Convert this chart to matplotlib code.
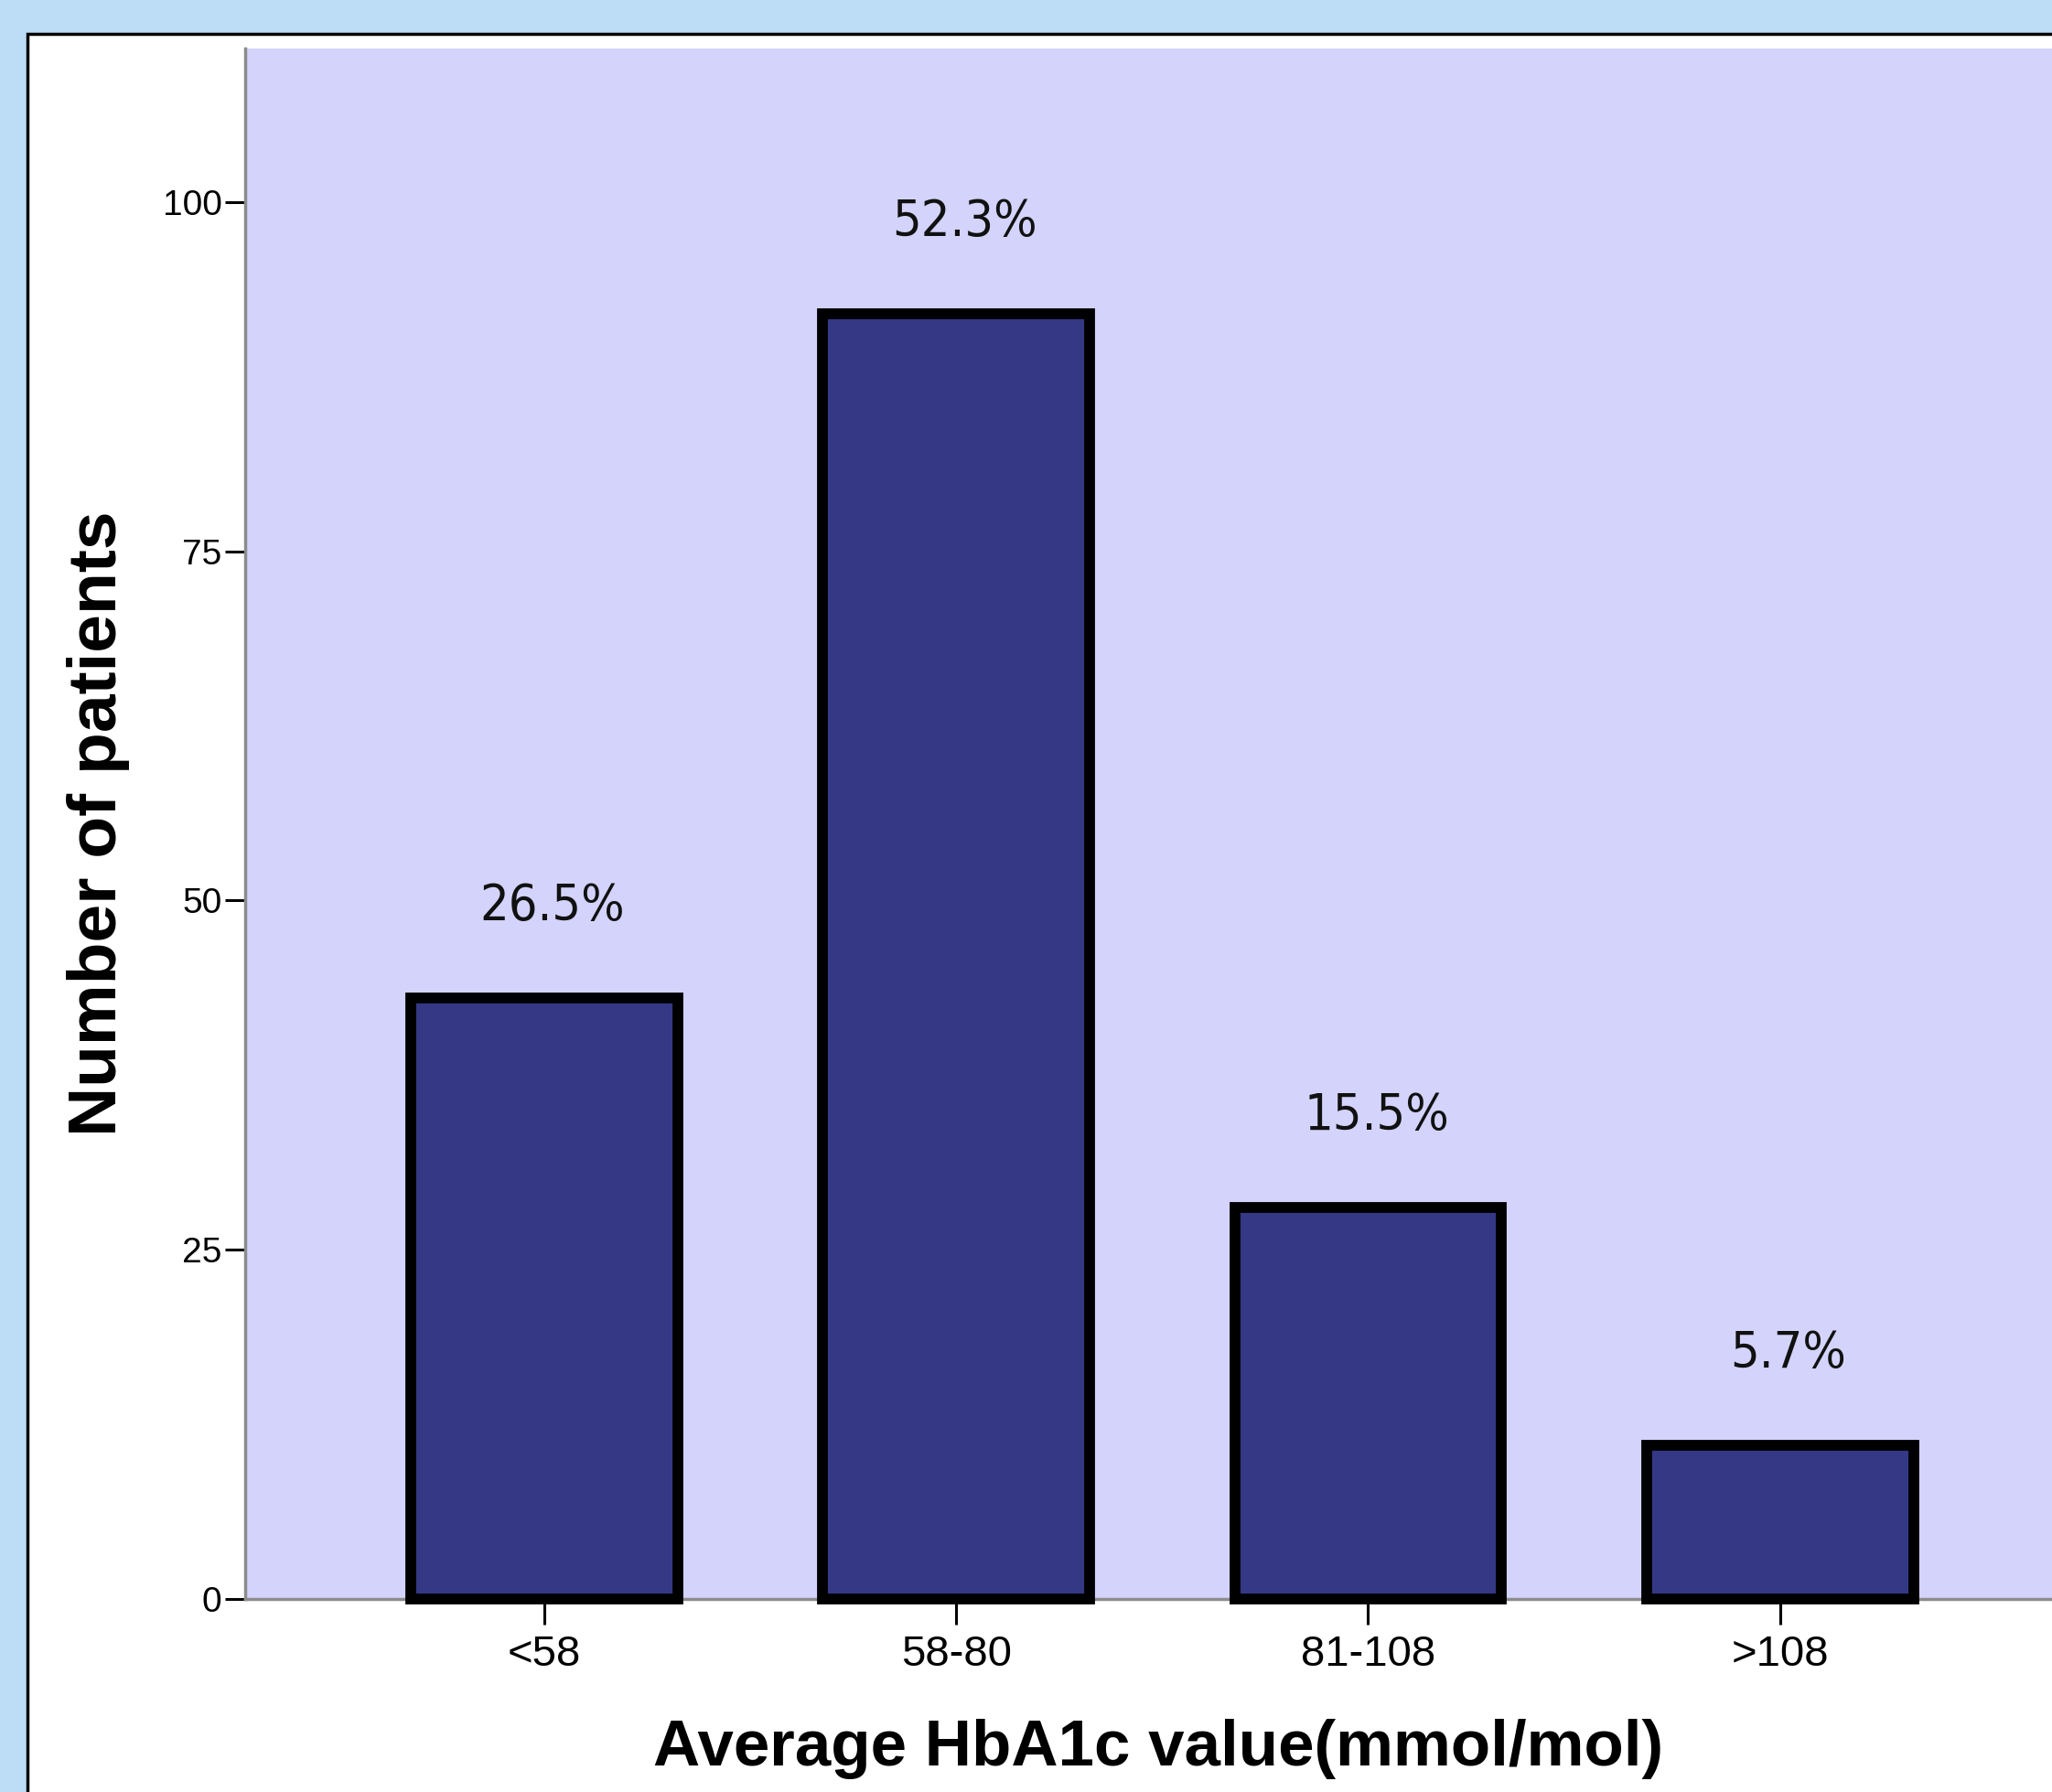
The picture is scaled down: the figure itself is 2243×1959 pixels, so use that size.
"""Bar chart: number of patients by average HbA1c band, with share labels."""

import matplotlib
matplotlib.use("Agg")
import matplotlib.pyplot as plt
from matplotlib.patches import Rectangle

# ---------------------------------------------------------------------------
# Data
# ---------------------------------------------------------------------------
CATEGORIES = ["<58", "58-80", "81-108", ">108"]
COUNTS = [43, 92, 28, 11]
SHARE_LABELS = ["26.5%", "52.3%", "15.5%", "5.7%"]
Y_TICKS = [0, 25, 50, 75, 100]

# ---------------------------------------------------------------------------
# Style
# ---------------------------------------------------------------------------
PAGE_BG = "#BDDCF5"
PLOT_BG = "#D3D3FC"
BAR_FILL = "#343885"
AXIS_GREY = "#8c8c8c"

W_PX, H_PX, DPI = 2243, 1959, 100

fig = plt.figure(figsize=(W_PX / DPI, H_PX / DPI), dpi=DPI, facecolor=PAGE_BG)

# white chart panel with a black frame (runs off the right/bottom edge)
panel = Rectangle(
    (30 / W_PX, -0.1), 1.2, 1.1 - 37 / H_PX,
    transform=fig.transFigure, facecolor="white",
    edgecolor="black", linewidth=2.5, zorder=0,
)
fig.add_artist(panel)

left = 267.5 / W_PX
bottom = (H_PX - 1748) / H_PX
top = (H_PX - 53) / H_PX
ax = fig.add_axes([left, bottom, 1.0 - left, top - bottom])
ax.set_facecolor(PLOT_BG)

x = list(range(len(CATEGORIES)))
ax.bar(
    x, COUNTS, width=0.648, color=BAR_FILL,
    edgecolor="black", linewidth=8.5, zorder=3, clip_on=False,
)

for xi, v, lab in zip(x, COUNTS, SHARE_LABELS):
    ax.text(
        xi + 0.02, v + 4.8, lab, ha="center", va="bottom",
        fontsize=40, family="DejaVu Sans", fontstretch="condensed",
        color="#111111", zorder=4,
    )

ax.set_xlim(-0.727, 3.66)
ax.set_ylim(0, 111)

ax.set_xticks(x)
ax.set_xticklabels(CATEGORIES, family="Liberation Sans", fontsize=34)
ax.set_yticks(Y_TICKS)
ax.set_yticklabels([str(t) for t in Y_TICKS], family="Liberation Sans", fontsize=28)

ax.tick_params(axis="y", direction="out", length=16, width=2.2, color="black", pad=2)
ax.tick_params(axis="x", direction="out", length=20, width=2.2, color="black", pad=8)

for side in ("top", "right"):
    ax.spines[side].set_visible(False)
for side in ("left", "bottom"):
    ax.spines[side].set_color(AXIS_GREY)
    ax.spines[side].set_linewidth(2.5)

# axis titles
fig.text(
    108 / W_PX, 1 - 900 / H_PX, "Number of patients",
    rotation=90, ha="center", va="center",
    family="Liberation Sans", fontweight="bold", fontsize=54,
)
fig.text(
    1266 / W_PX, 1 - 1912 / H_PX, "Average HbA1c value(mmol/mol)",
    ha="center", va="center",
    family="Liberation Sans", fontweight="bold", fontsize=51,
)

fig.savefig("out.png", dpi=DPI, facecolor=PAGE_BG)
